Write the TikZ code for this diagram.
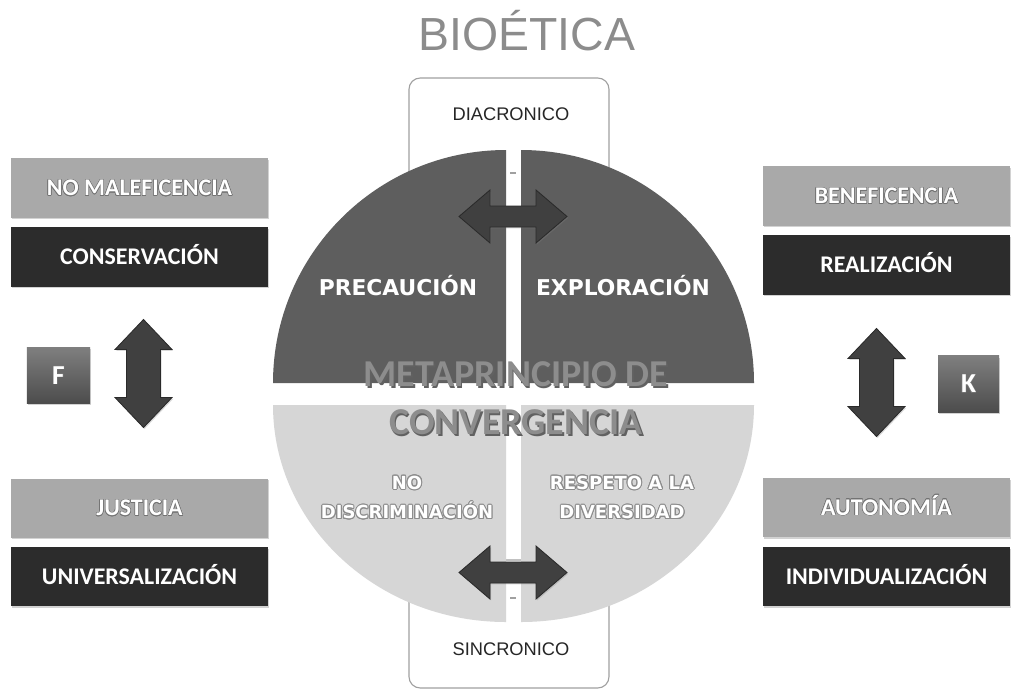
\documentclass[tikz,border=0pt]{standalone}
\usepackage{fontspec}
\setmainfont{Carlito}
\newfontfamily\titlefont{Liberation Sans}
\newfontfamily\widefont{DejaVu Sans}
\usepackage{contour}
\usetikzlibrary{shadows}

\definecolor{titlegray}{HTML}{8C8C8C}
\definecolor{piedark}{HTML}{5E5E5E}
\definecolor{pielight}{HTML}{D6D6D6}
\definecolor{boxlight}{HTML}{A9A9A9}
\definecolor{boxdark}{HTML}{2C2C2C}
\definecolor{arrowgray}{HTML}{404040}
\definecolor{arrowedge}{HTML}{2A2A2A}
\definecolor{timeline}{HTML}{A0A0A0}
\definecolor{metagray}{HTML}{8D8D8D}

\newcommand{\shad}[1]{{\contourlength{0.35pt}\contour{black!55}{#1}}}
\newcommand{\emb}[1]{{\contourlength{0.7pt}\contour{black!45}{#1}}}
\newcommand{\tshad}[1]{\leavevmode\rlap{\raisebox{-1.1pt}{\hspace{1.1pt}\color{black!62}#1}}#1}

\tikzset{
  harrow/.pic={\path[arrowfill] (-54,0) -- (-23,-26.5) -- (-23,-10.5) -- (23,-10.5) -- (23,-26.5) -- (54,0)
    -- (23,26.5) -- (23,10.5) -- (-23,10.5) -- (-23,26.5) -- cycle;},
  varrow/.pic={\path[arrowfill] (0,-54) -- (28.5,-24) -- (17,-24) -- (17,24) -- (28.5,24) -- (0,54)
    -- (-28.5,24) -- (-17,24) -- (-17,-24) -- (-28.5,-24) -- cycle;}
}

\begin{document}
\begin{tikzpicture}[x=0.025cm,y=-0.025cm,
    lightbox/.style={fill=boxlight,inner sep=0pt,minimum height=1.475cm,text height=11pt,text depth=0pt,
      text=white,font=\bfseries\fontsize{17}{19}\selectfont,
      drop shadow={opacity=0.35,shadow xshift=0.8pt,shadow yshift=-1.2pt}},
    darkbox/.style={lightbox,fill=boxdark},
    leftcol/.style={minimum width=6.425cm},
    rightcol/.style={minimum width=6.175cm},
    letterbox/.style={lightbox,top color=boxlight!75!black,bottom color=boxlight!45!black,
      minimum height=1.4cm,text height=12.5pt,font=\bfseries\fontsize{19.5}{21}\selectfont},
    arrowfill/.style={fill=arrowgray,draw=arrowedge,line width=0.6pt,
      drop shadow={opacity=0.3,shadow xshift=0.8pt,shadow yshift=-1pt}},
    timebox/.style={draw=timeline,fill=white,rounded corners=8pt,line width=0.8pt},
    timetext/.style={anchor=base,font=\titlefont\fontsize{13}{15}\selectfont,text=black!85},
    quarter/.style={anchor=base,text=white,font=\widefont\bfseries\fontsize{15.5}{18}\selectfont},
    lowtext/.style={align=center,text=white,font=\widefont\bfseries\fontsize{12.8}{21}\selectfont}]
  \fill[white] (0,0) rectangle (1012,691);
  \useasboundingbox (0,0) rectangle (1012,691);

  \node[anchor=base,text=titlegray,font=\titlefont\fontsize{33}{36}\selectfont] (title) at (527,50) {BIOÉTICA};

  % time boxes behind the circle
  \draw[timebox] (409,78) rectangle (609,210);
  \draw[timebox] (409,560) rectangle (609,688);
  \node[timetext] (diac) at (511,120) {DIACRONICO};
  \node[timetext] (sinc) at (511,655) {SINCRONICO};

  % four quarters
  \fill[piedark] (506,383) -- (273,383) arc[start angle=180,end angle=270,radius=233] -- cycle;
  \fill[piedark] (521,383) -- (521,150) arc[start angle=270,end angle=360,radius=233] -- cycle;
  \fill[pielight] (506,405) -- (273,405) arc[start angle=180,end angle=90,x radius=233,y radius=217] -- cycle;
  \fill[pielight] (521,405) -- (754,405) arc[start angle=0,end angle=90,x radius=233,y radius=217] -- cycle;
  \draw[timeline,line width=1pt] (510,173) -- (516,173);
  \draw[timeline,line width=1pt] (510,598) -- (516,598);

  \node[quarter] (precau) at (398,295) {PRECAUCIÓN};
  \node[quarter] (explor) at (623,295) {EXPLORACIÓN};
  \node[lowtext] (nodisc) at (407,498) {\emb{NO}\\\emb{DISCRIMINACIÓN}};
  \node[lowtext] (respeto) at (622,498) {\emb{RESPETO A LA}\\\emb{DIVERSIDAD}};
  \node[align=center,text=metagray,font=\bfseries\fontsize{27}{34}\selectfont] (meta) at (516,399)
    {\tshad{METAPRINCIPIO DE}\\\tshad{CONVERGENCIA}};

  \pic (toparrow) at (513,216.5) {harrow};
  \pic (lowarrow) at (513,572.5) {harrow};

  % left column
  \node[lightbox,leftcol] (nomal) at (139.5,188) {\shad{NO MALEFICENCIA}};
  \node[darkbox,leftcol] (conserv) at (139.5,257) {CONSERVACIÓN};
  \node[lightbox,leftcol] (justicia) at (139.5,508) {\shad{JUSTICIA}};
  \node[darkbox,leftcol] (universal) at (139.5,576.5) {UNIVERSALIZACIÓN};
  \node[letterbox,minimum width=1.575cm] (f) at (58.5,375.5) {\shad{F}};
  \pic (leftarrow) at (143.5,373.5) {varrow};

  % right column
  \node[lightbox,rightcol] (benef) at (886.5,196) {\shad{BENEFICENCIA}};
  \node[darkbox,rightcol] (realiz) at (886.5,265) {REALIZACIÓN};
  \node[lightbox,rightcol] (autonom) at (886.5,507.5) {\shad{AUTONOMÍA}};
  \node[darkbox,rightcol] (individ) at (886.5,576.5) {INDIVIDUALIZACIÓN};
  \node[letterbox,minimum width=1.525cm] (k) at (968.5,384) {\shad{K}};
  \pic (rightarrow) at (876.5,382.5) {varrow};
\end{tikzpicture}
\end{document}
